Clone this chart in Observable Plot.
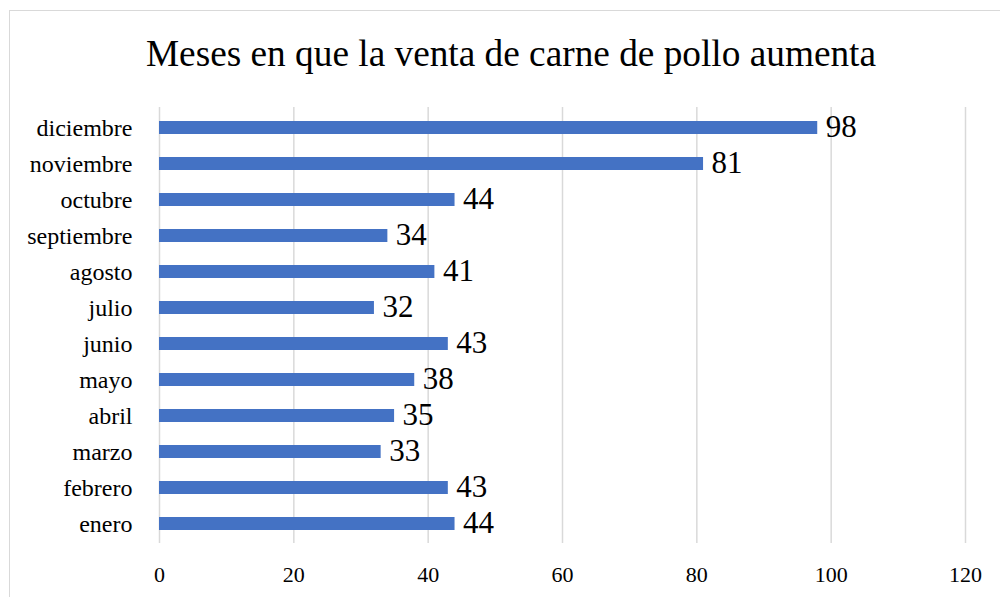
<!DOCTYPE html>
<html>
<head>
<meta charset="utf-8">
<script src="https://cdn.jsdelivr.net/npm/d3@7"></script>
<script src="https://cdn.jsdelivr.net/npm/@observablehq/plot@0.6"></script>
<style>
  html, body { margin: 0; padding: 0; background: #fff; overflow: hidden; }
  body { width: 1000px; height: 597px; position: relative; font-family: "Times New Roman", "Liberation Serif", Times, "DejaVu Serif", serif; }
  #frame { position: absolute; left: 9px; top: 10px; width: 1010px; height: 620px; border: 1.5px solid #d9d9d9; box-sizing: border-box; }
  #title { position: absolute; left: 11px; top: 35px; width: 1000px; text-align: center; font-size: 37.3px; line-height: 37px; color: #000; white-space: nowrap; }
  #chart { position: absolute; left: 0; top: 0; }
  #chart svg, #chart svg text { font-family: "Times New Roman", "Liberation Serif", Times, "DejaVu Serif", serif !important; }
</style>
</head>
<body>
<div id="frame"></div>
<div id="title">Meses en que la venta de carne de pollo aumenta</div>
<div id="chart"></div>
<script>
const months = ["enero", "febrero", "marzo", "abril", "mayo", "junio", "julio", "agosto", "septiembre", "octubre", "noviembre", "diciembre"];
const values = [44, 43, 33, 35, 38, 43, 32, 41, 34, 44, 81, 98];
const xTicks = [0, 20, 40, 60, 80, 100, 120];

const data = months.map((m, i) => ({month: m, value: values[i]}));

const chart = Plot.plot({
  width: 1000,
  height: 597,
  marginLeft: 159,
  marginRight: 35,
  marginTop: 107,
  marginBottom: 54,
  style: {background: "transparent", color: "#000", overflow: "visible"},
  x: {domain: [0, 120], ticks: xTicks, label: null},
  y: {domain: months.slice().reverse(), paddingInner: 0.64, paddingOuter: 0.32, label: null},
  marks: [
    Plot.gridX(xTicks, {stroke: "#d9d9d9", strokeOpacity: 1, strokeWidth: 1.5}),
    Plot.axisX({ticks: xTicks, tickSize: 0, tickPadding: 23, fontSize: 22, label: null, tickFormat: d => String(d)}),
    Plot.axisY({tickSize: 0, tickPadding: 27, fontSize: 24, label: null}),
    Plot.barX(data, {x: "value", y: "month", fill: "#4472C4"}),
    Plot.text(data, {x: "value", y: "month", text: d => String(d.value), textAnchor: "start", dx: 8, dy: -1, fontSize: 31, fill: "#000"})
  ]
});
document.getElementById("chart").appendChild(chart);
</script>
</body>
</html>
